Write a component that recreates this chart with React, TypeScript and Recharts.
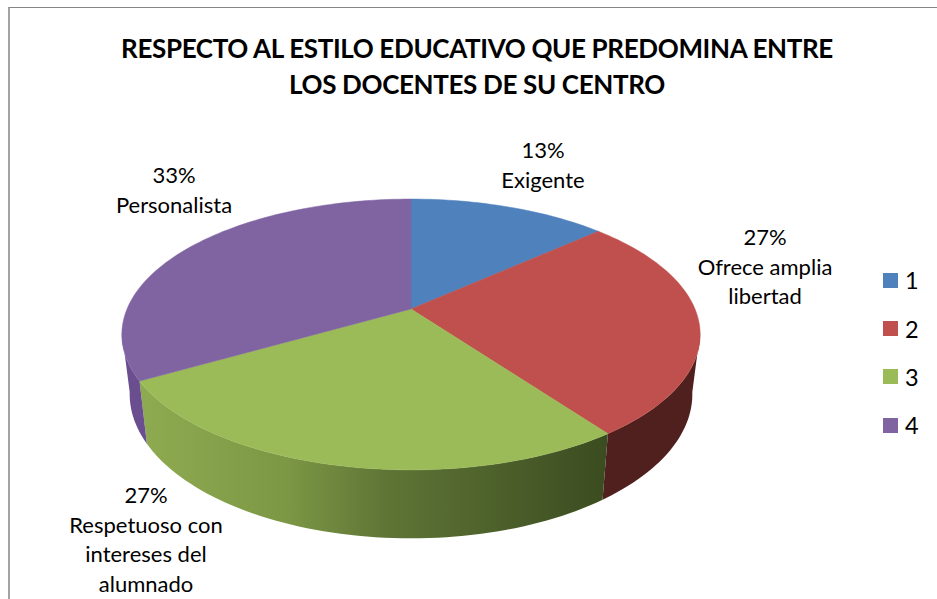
import { Cell, Legend, Pie, PieChart } from "recharts";

const categories = ["1", "2", "3", "4"];
const values = [2, 4, 4, 5];
const labelNames = [
  ["Exigente"],
  ["Ofrece amplia", "libertad"],
  ["Respetuoso con", "intereses del", "alumnado"],
  ["Personalista"],
];
const titleLines = [
  "RESPECTO AL ESTILO EDUCATIVO QUE PREDOMINA ENTRE",
  "LOS DOCENTES DE SU CENTRO",
];

const colors = ["#4f81bd", "#c0504d", "#9bbb59", "#8064a2"];
const wallFills = ["#3a5f8c", "#4f201d", "url(#greenWall)", "#6a4e8f"];
const labelAnchors = [
  { x: 543, y: 158 },
  { x: 765, y: 245 },
  { x: 146, y: 503 },
  { x: 174, y: 183 },
];

const FONT = "Lato, 'Open Sans', sans-serif";
const CX = 411;
const CY = 309;
const RADIUS = 284;
const TILT = 0.46;
const PERSPECTIVE = 0.188;
const WALL_FROM = 100;
const WALL_TO = 260;

const tableData = categories.map((name, i) => ({ name, value: values[i] }));

// recharts gives math angles, here theta is clockwise from the top
function topPoint(cx: number, cy: number, r: number, theta: number) {
  const rad = (theta * Math.PI) / 180;
  const w = 1 / (1 + PERSPECTIVE * Math.cos(rad));
  return {
    x: cx + r * Math.sin(rad) * w,
    y: cy - r * TILT * Math.cos(rad) * w,
  };
}

function bottomPoint(cx: number, cy: number, r: number, theta: number) {
  const p = topPoint(cx, cy, r, theta);
  return {
    x: cx + (p.x - cx) * 0.973,
    y: p.y + 58 + (p.y - cy) * 0.065,
  };
}

function sweep(from: number, to: number) {
  const out: number[] = [];
  for (let t = from; t < to; t += 1.5) out.push(t);
  out.push(to);
  return out;
}

// one sector: the visible part of its side wall, then its top face
function Sector3D(props: any) {
  const { cx, cy, outerRadius, startAngle, endAngle, index } = props;
  const start = 90 - startAngle;
  const end = 90 - endAngle;

  const top = sweep(start, end).map((t) => topPoint(cx, cy, outerRadius, t));
  const topPath =
    `M${cx},${cy} ` + top.map((p) => `L${p.x},${p.y}`).join(" ") + " Z";

  const from = Math.max(start, WALL_FROM);
  const to = Math.min(end, WALL_TO);
  let wallPath = "";
  if (to > from) {
    const angles = sweep(from, to);
    const upper = angles.map((t) => topPoint(cx, cy, outerRadius, t));
    const lower = angles
      .slice()
      .reverse()
      .map((t) => bottomPoint(cx, cy, outerRadius, t));
    wallPath =
      upper
        .concat(lower)
        .map((p, i) => `${i ? "L" : "M"}${p.x},${p.y}`)
        .join(" ") + " Z";
  }

  return (
    <g>
      {wallPath && <path d={wallPath} fill={wallFills[index]} />}
      <path d={topPath} fill={colors[index]} stroke={colors[index]} strokeWidth={0.5} />
    </g>
  );
}

function renderLabel(props: any) {
  const { index, percent } = props;
  const pos = labelAnchors[index];
  const lines = [`${Math.round(percent * 100)}%`, ...labelNames[index]];
  return (
    <text
      key={index}
      x={pos.x}
      y={pos.y}
      textAnchor="middle"
      fontFamily={FONT}
      fontSize={22}
      fill="#000"
    >
      {lines.map((line, i) => (
        <tspan key={i} x={pos.x} dy={i === 0 ? 0 : 29.7}>
          {line}
        </tspan>
      ))}
    </text>
  );
}

function LegendList({ payload }: any) {
  return (
    <div style={{ fontFamily: FONT, fontSize: 23.5, color: "#000" }}>
      {(payload || []).map((entry: any, i: number) => (
        <div
          key={i}
          style={{ display: "flex", alignItems: "center", height: 48.4 }}
        >
          <span
            style={{
              width: 15,
              height: 15,
              background: entry.color,
              marginRight: 7,
            }}
          />
          {entry.value}
        </div>
      ))}
    </div>
  );
}

export default function App() {
  return (
    <div
      style={{
        position: "absolute",
        left: 0,
        top: 0,
        width: 937,
        height: 599,
        overflow: "hidden",
        background: "#fff",
      }}
    >
      <div
        style={{
          position: "absolute",
          left: 8,
          top: 7,
          right: 0,
          bottom: 0,
          borderLeft: "2px solid #a3a3a3",
          borderTop: "1px solid #868686",
        }}
      />
      <PieChart
        width={937}
        height={599}
        margin={{ top: 0, right: 0, bottom: 0, left: 0 }}
        style={{ position: "absolute", left: 0, top: 0 }}
      >
        <defs>
          <linearGradient
            id="greenWall"
            gradientUnits="userSpaceOnUse"
            x1="146"
            y1="0"
            x2="606"
            y2="0"
          >
            <stop offset="0%" stopColor="#8eaa50" />
            <stop offset="30%" stopColor="#7d9845" />
            <stop offset="52%" stopColor="#5f7536" />
            <stop offset="100%" stopColor="#3b4c20" />
          </linearGradient>
        </defs>
        <text
          textAnchor="middle"
          fontFamily={FONT}
          fontWeight={700}
          fontSize={26}
          letterSpacing={-0.35}
          fill="#000"
        >
          <tspan x={477} y={58}>
            {titleLines[0]}
          </tspan>
          <tspan x={477} y={94}>
            {titleLines[1]}
          </tspan>
        </text>
        <Pie
          data={tableData}
          dataKey="value"
          nameKey="name"
          cx={CX}
          cy={CY}
          outerRadius={RADIUS}
          startAngle={90}
          endAngle={-270}
          shape={Sector3D}
          label={renderLabel}
          labelLine={false}
          isAnimationActive={false}
        >
          {tableData.map((row, i) => (
            <Cell key={row.name} fill={colors[i]} />
          ))}
        </Pie>
        <Legend
          content={<LegendList />}
          wrapperStyle={{ position: "absolute", left: 883, top: 256, width: 54 }}
        />
      </PieChart>
    </div>
  );
}
